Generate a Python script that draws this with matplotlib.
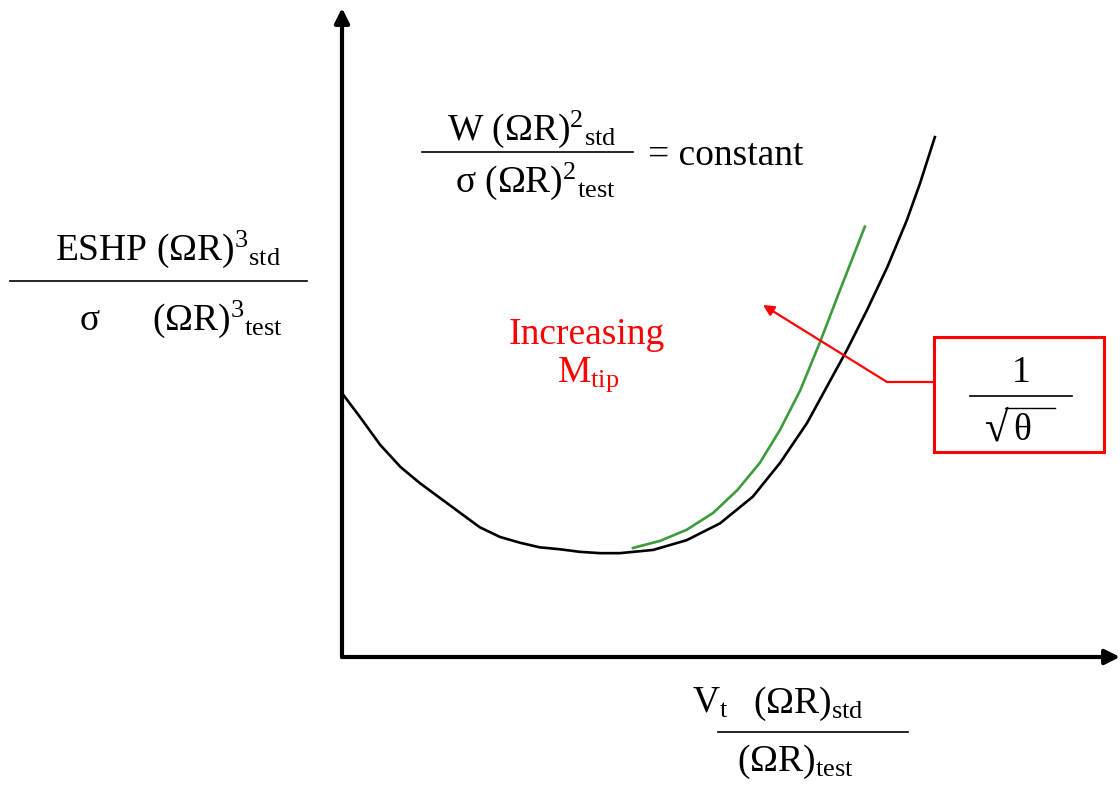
import matplotlib
matplotlib.use("Agg")
import matplotlib.pyplot as plt
from matplotlib.lines import Line2D
from matplotlib.patches import Rectangle, FancyArrowPatch

W, H = 1120, 787

# schematic curves, axis units 0..10
black_x = [0.01, 0.23, 0.49, 0.75, 1.00, 1.26, 1.52, 1.77, 2.03, 2.29, 2.54,
           2.80, 3.06, 3.32, 3.57, 3.83, 4.00, 4.43, 4.86, 5.28, 5.63, 5.98,
           6.23, 6.49, 6.75, 7.01, 7.26, 7.43, 7.62]
black_y = [4.05, 3.70, 3.27, 2.93, 2.68, 2.45, 2.22, 2.00, 1.85, 1.76, 1.69,
           1.66, 1.62, 1.60, 1.60, 1.63, 1.65, 1.80, 2.06, 2.47, 2.99, 3.61,
           4.16, 4.73, 5.35, 6.01, 6.73, 7.30, 8.01]
green_x = [3.74, 4.09, 4.43, 4.77, 5.08, 5.37, 5.63, 5.89, 6.14, 6.40, 6.72]
green_y = [1.68, 1.79, 1.96, 2.22, 2.57, 2.99, 3.50, 4.11, 4.84, 5.65, 6.63]

plt.rcParams['font.family'] = ['Liberation Serif', 'DejaVu Serif']
plt.rcParams['mathtext.fontset'] = 'custom'
plt.rcParams['mathtext.rm'] = 'Liberation Serif'
plt.rcParams['mathtext.default'] = 'regular'

fig = plt.figure(figsize=(W / 100, H / 100), dpi=100)


def fx(x):
    return x / W


def fy(y):
    return 1 - y / H


ax = fig.add_axes([fx(342), fy(657), fx(1120 - 342), (657 - 8) / H])
ax.plot(black_x, black_y, color='black', lw=1.9, solid_joinstyle='round')
ax.plot(green_x, green_y, color='#3d9b3d', lw=1.9, solid_joinstyle='round')
ax.set_xlim(0, 10)
ax.set_ylim(0, 10)
ax.axis('off')
ax.annotate('', xy=(0, 1.0), xytext=(0, 0), xycoords='axes fraction',
            arrowprops=dict(arrowstyle='-|>', lw=3, color='black',
                            mutation_scale=22, shrinkA=0, shrinkB=0))
ax.annotate('', xy=(1.0, 0), xytext=(0, 0), xycoords='axes fraction',
            arrowprops=dict(arrowstyle='-|>', lw=3, color='black',
                            mutation_scale=22, shrinkA=0, shrinkB=0))


def hline(x0, x1, y, color='black', lw=1.2):
    fig.add_artist(Line2D([fx(x0), fx(x1)], [fy(y), fy(y)],
                          transform=fig.transFigure, color=color, lw=lw))


def txt(x, y, s, **kw):
    kw.setdefault('fontsize', 27)
    kw.setdefault('ha', 'left')
    kw.setdefault('va', 'baseline')
    fig.text(fx(x), fy(y), s, **kw)


# y label
txt(55, 260, r'ESHP (ΩR)$^{3}{}_{std}$')
hline(10, 307, 281)
txt(80, 330, 'σ')
txt(152, 330, r'(ΩR)$^{3}{}_{test}$')

# top formula
txt(447, 140, r'W (ΩR)$^{2}{}_{std}$')
hline(422, 633, 152)
txt(455, 192, r'σ (ΩR)$^{2}{}_{test}$')
txt(648, 165, '= constant')

# x label
txt(692, 713, r'V$_{t}$')
txt(753, 713, r'(ΩR)$_{std}$')
hline(718, 908, 732)
txt(737, 771, r'(ΩR)$_{test}$')

# increasing M_tip
txt(587, 344, 'Increasing', color='red', ha='center')
txt(588, 382, r'M$_{tip}$', color='red', ha='center')

# red box with 1/sqrt(theta)
fig.add_artist(Rectangle((fx(934), fy(452)), fx(1104 - 934), (452 - 337) / H,
                         transform=fig.transFigure, fill=False, edgecolor='red', lw=2.2))
txt(1021, 382, '1', ha='center')
hline(970, 1072, 396)
txt(985, 441, '√', fontsize=31)
txt(1013, 440, 'θ')
hline(1005, 1055, 408, lw=1.0)

# red pointer
fig.add_artist(Line2D([fx(887), fx(934)], [fy(382), fy(382)],
                      transform=fig.transFigure, color='red', lw=1.6))
fig.add_artist(FancyArrowPatch(
    (fx(887), fy(382)), (fx(763), fy(305)), transform=fig.transFigure,
    arrowstyle='-|>', mutation_scale=16, color='red', lw=1.6, shrinkA=0, shrinkB=0))

fig.savefig('out.png', dpi=100)
